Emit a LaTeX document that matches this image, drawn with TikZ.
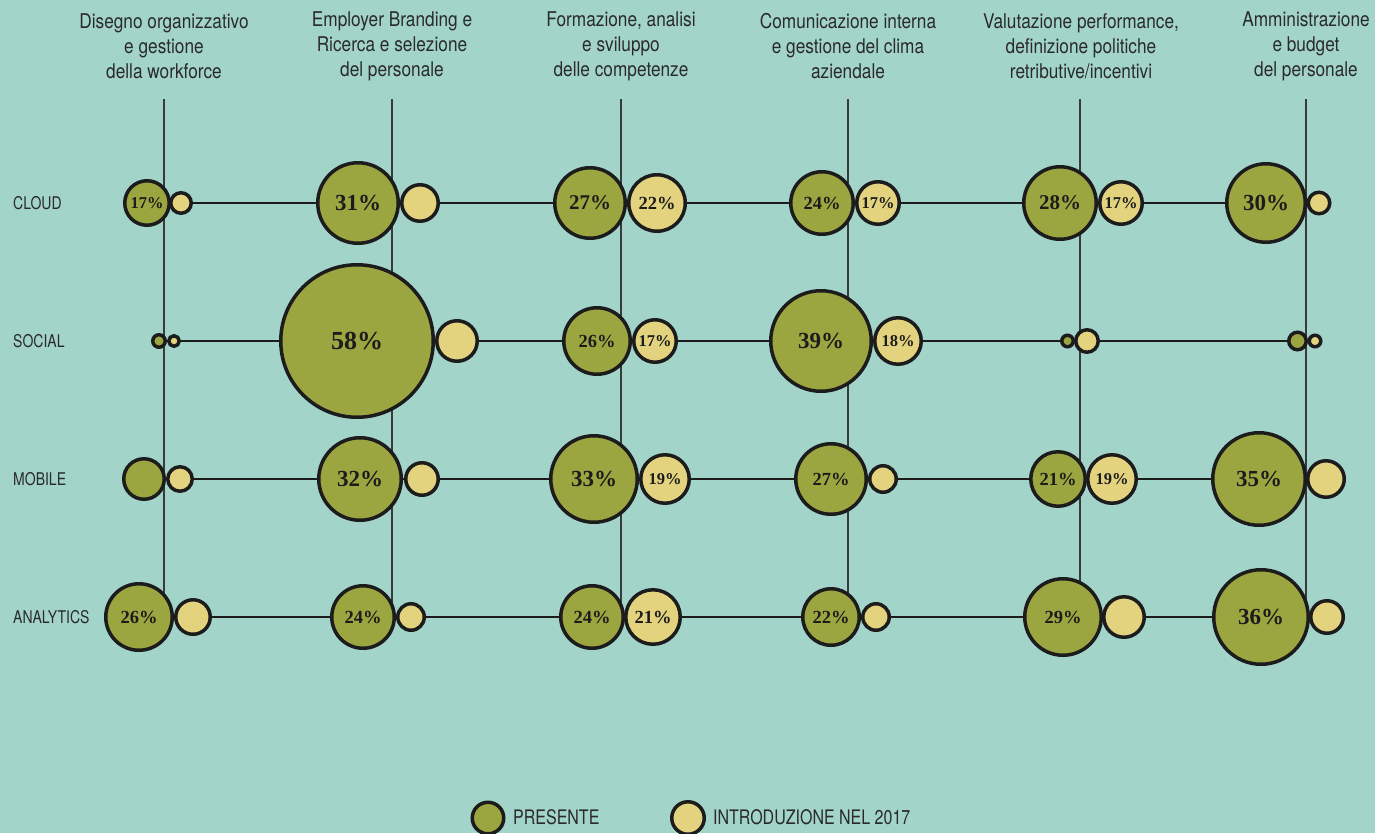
\documentclass[tikz,border=0pt]{standalone}
\usepackage{fontspec}
\setmainfont{Liberation Serif}
\newfontfamily\cndfont{TeX Gyre Heros}[FakeStretch=0.8]
\newfontfamily\hdrfont{TeX Gyre Heros}[FakeStretch=0.85]
\newfontfamily\pctfont{Liberation Serif}
\usetikzlibrary{backgrounds}
\definecolor{bgc}{HTML}{A2D4CA}
\definecolor{greenc}{HTML}{9CA640}
\definecolor{yellowc}{HTML}{E3D37F}
\definecolor{strokec}{HTML}{1C1C1C}
\definecolor{txtc}{HTML}{2A2A2A}
\definecolor{vlinec}{HTML}{3A3A3A}
\tikzset{
  bubble/.style={circle, draw=strokec, line width=3.5pt, inner sep=0pt, outer sep=0pt, text=strokec, font=\pctfont\bfseries},
  pres/.style={bubble, fill=greenc},
  intro/.style={bubble, fill=yellowc},
  fa/.style={font=\pctfont\bfseries\fontsize{16.5}{16.5}\selectfont},
  fb/.style={font=\pctfont\bfseries\fontsize{18.5}{18.5}\selectfont},
  fc/.style={font=\pctfont\bfseries\fontsize{21}{21}\selectfont},
  fd/.style={font=\pctfont\bfseries\fontsize{23}{23}\selectfont},
  fe/.style={font=\pctfont\bfseries\fontsize{26}{26}\selectfont},
  header/.style={align=center, text=txtc, inner sep=0pt, font=\hdrfont\fontsize{20.3}{25}\selectfont},
  rowlabel/.style={anchor=west, text=txtc, inner sep=0pt, font=\cndfont\fontsize{17.5}{17.5}\selectfont},
  legtext/.style={anchor=west, text=txtc, inner sep=0pt, font=\cndfont\fontsize{20}{20}\selectfont},
  vline/.style={draw=vlinec, line width=1.3pt},
  hline/.style={draw=strokec, line width=2.2pt},
}
\begin{document}
\begin{tikzpicture}[x=1pt, y=-1pt]
\useasboundingbox (0,0) rectangle (1375,833);

% headers
\node[header] (h1) at (164,46) {Disegno organizzativo\\e gestione\\della workforce};
\node[header] (h2) at (392,46) {Employer Branding e\\Ricerca e selezione\\del personale};
\node[header] (h3) at (621,46) {Formazione, analisi\\e sviluppo\\delle competenze};
\node[header] (h4) at (848,46) {Comunicazione interna\\e gestione del clima\\aziendale};
\node[header] (h5) at (1081,46) {Valutazione performance,\\definizione politiche\\retributive/incentivi};
\node[header] (h6) at (1306,46) {Amministrazione\\e budget\\del personale};

% row labels
\node[rowlabel] (r1) at (13,203) {CLOUD};
\node[rowlabel] (r2) at (13,341) {SOCIAL};
\node[rowlabel] (r3) at (13,479) {MOBILE};
\node[rowlabel] (r4) at (13,617) {ANALYTICS};

% column line end points
\coordinate (t1) at (164,99);  \coordinate (b1) at (164,617);
\coordinate (t2) at (392,99);  \coordinate (b2) at (392,617);
\coordinate (t3) at (621,99);  \coordinate (b3) at (621,617);
\coordinate (t4) at (848,99);  \coordinate (b4) at (848,617);
\coordinate (t5) at (1080,99); \coordinate (b5) at (1080,617);
\coordinate (t6) at (1306,99); \coordinate (b6) at (1306,617);

% CLOUD
\node[pres, fa, minimum size=44.5pt] (g11) at (147,203) {17\%};
\node[intro, minimum size=20.5pt] (y11) at (181,203) {};
\node[pres, fd, minimum size=80.5pt] (g12) at (358,203) {31\%};
\node[intro, minimum size=36.5pt] (y12) at (420,203) {};
\node[pres, fc, minimum size=70.5pt] (g13) at (590,203) {27\%};
\node[intro, fb, minimum size=56.5pt] (y13) at (657,203) {22\%};
\node[pres, fb, minimum size=62.5pt] (g14) at (822,203) {24\%};
\node[intro, fa, minimum size=42.5pt] (y14) at (878,203) {17\%};
\node[pres, fc, minimum size=72.5pt] (g15) at (1060,203) {28\%};
\node[intro, fa, minimum size=42.5pt] (y15) at (1121,203) {17\%};
\node[pres, fd, minimum size=78.5pt] (g16) at (1266,203) {30\%};
\node[intro, minimum size=21.5pt] (y16) at (1319,203) {};

% SOCIAL
\node[pres, minimum size=12.5pt] (g21) at (159,341) {};
\node[intro, minimum size=10.5pt] (y21) at (174,341) {};
\node[pres, fe, minimum size=152.5pt] (g22) at (357,341) {58\%};
\node[intro, minimum size=40.5pt] (y22) at (457,341) {};
\node[pres, fb, minimum size=66.5pt] (g23) at (597,341) {26\%};
\node[intro, fa, minimum size=42.5pt] (y23) at (655,341) {17\%};
\node[pres, fd, minimum size=100.5pt] (g24) at (821,341) {39\%};
\node[intro, fa, minimum size=46.5pt] (y24) at (898,341) {18\%};
\node[pres, minimum size=11.5pt] (g25) at (1067.5,341) {};
\node[intro, minimum size=22.5pt] (y25) at (1087,341) {};
\node[pres, minimum size=17.5pt] (g26) at (1297.5,341) {};
\node[intro, minimum size=11.5pt] (y26) at (1315,341) {};

% MOBILE
\node[pres, minimum size=40.5pt] (g31) at (144,479) {};
\node[intro, minimum size=24.5pt] (y31) at (180,479) {};
\node[pres, fd, minimum size=82.5pt] (g32) at (360,479) {32\%};
\node[intro, minimum size=32.5pt] (y32) at (422,479) {};
\node[pres, fd, minimum size=86.5pt] (g33) at (594,479) {33\%};
\node[intro, fa, minimum size=48.5pt] (y33) at (665,479) {19\%};
\node[pres, fb, minimum size=70.5pt] (g34) at (831,479) {27\%};
\node[intro, minimum size=26.5pt] (y34) at (883,479) {};
\node[pres, fb, minimum size=54.5pt] (g35) at (1058,479) {21\%};
\node[intro, fa, minimum size=48.5pt] (y35) at (1112,479) {19\%};
\node[pres, fd, minimum size=92.5pt] (g36) at (1259,479) {35\%};
\node[intro, minimum size=36.5pt] (y36) at (1326,479) {};

% ANALYTICS
\node[pres, fb, minimum size=66.5pt] (g41) at (139,617) {26\%};
\node[intro, minimum size=34.5pt] (y41) at (193,617) {};
\node[pres, fb, minimum size=62.5pt] (g42) at (363,617) {24\%};
\node[intro, minimum size=26.5pt] (y42) at (411,617) {};
\node[pres, fb, minimum size=62.5pt] (g43) at (592,617) {24\%};
\node[intro, fb, minimum size=54.5pt] (y43) at (653,617) {21\%};
\node[pres, fb, minimum size=56.5pt] (g44) at (831,617) {22\%};
\node[intro, minimum size=26.5pt] (y44) at (876,617) {};
\node[pres, fb, minimum size=76.5pt] (g45) at (1063,617) {29\%};
\node[intro, minimum size=40.5pt] (y45) at (1124,617) {};
\node[pres, fd, minimum size=94.5pt] (g46) at (1261,617) {36\%};
\node[intro, minimum size=32.5pt] (y46) at (1327,617) {};

% legend
\node[pres, minimum size=31.5pt] (lg) at (488,818) {};
\node[legtext] (lgt) at (513,817) {PRESENTE};
\node[intro, minimum size=32.5pt] (ly) at (688,818) {};
\node[legtext] (lyt) at (713,817) {INTRODUZIONE NEL 2017};

\begin{pgfonlayer}{background}
  \fill[bgc] (0,0) rectangle (1375,833);
  \foreach \i in {1,...,6} { \draw[vline] (t\i) -- (b\i); }
  \draw[hline] (y11.center) -- (g16.center);
  \draw[hline] (y21.center) -- (g26.center);
  \draw[hline] (y31.center) -- (g36.center);
  \draw[hline] (y41.center) -- (g46.center);
\end{pgfonlayer}
\end{tikzpicture}
\end{document}
